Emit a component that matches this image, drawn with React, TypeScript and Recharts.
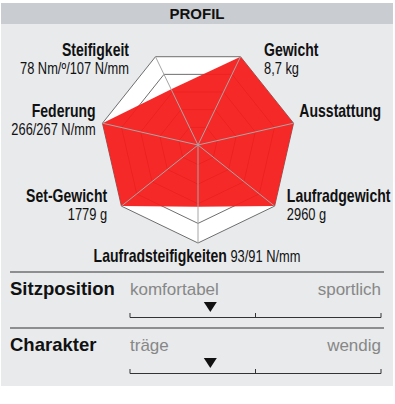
import React from 'react';
import {
  RadarChart,
  Radar,
  PolarGrid,
  PolarAngleAxis,
  PolarRadiusAxis
} from 'recharts';

// Profile axes, clockwise starting at "Gewicht"
const categories = [
  'Gewicht',
  'Ausstattung',
  'Laufradgewicht',
  'Laufradsteifigkeiten',
  'Set-Gewicht',
  'Federung',
  'Steifigkeit'
];
const measured = ['8,7 kg', '', '2960 g', '93/91 N/mm', '1779 g', '266/267 N/mm', '78 Nm/º/107 N/mm'];
const scores = [100, 100, 100, 63, 100, 100, 63];
const fullScores = [100, 100, 100, 100, 100, 100, 100];

// Bottom rating scales
const scaleTitles = ['Sitzposition', 'Charakter'];
const scaleLeft = ['komfortabel', 'träge'];
const scaleRight = ['sportlich', 'wendig'];
const scaleMarker = [0.32, 0.32];

const chartData = categories.map((name, i) => ({
  name,
  value: measured[i],
  score: scores[i],
  full: fullScores[i]
}));

const SANS = '"Liberation Sans", Arial, sans-serif';
const SQUEEZE = 0.78; // fake a condensed face

// label placement relative to the tick point
const labelLayout: Record<string, { anchor: 'start' | 'end' | 'middle'; dx: number; dy: number; inline?: boolean }> = {
  'Gewicht': { anchor: 'start', dx: 20, dy: 7 },
  'Ausstattung': { anchor: 'start', dx: -2, dy: -4 },
  'Laufradgewicht': { anchor: 'start', dx: 6, dy: -9 },
  'Laufradsteifigkeiten': { anchor: 'middle', dx: -1, dy: 11, inline: true },
  'Set-Gewicht': { anchor: 'end', dx: -8, dy: -9 },
  'Federung': { anchor: 'end', dx: 1, dy: -4 },
  'Steifigkeit': { anchor: 'end', dx: -23, dy: 7 }
};

function AxisLabel(props: any) {
  const { x, y, payload, index } = props;
  const name = payload.value as string;
  const layout = labelLayout[name];
  const sub = measured[index];
  const tf = `translate(${x + layout.dx},${y + layout.dy}) scale(${SQUEEZE},1)`;
  if (layout.inline) {
    return (
      <g transform={tf}>
        <text x={0} y={0} textAnchor="middle" fill="#111" fontFamily={SANS}>
          <tspan fontWeight="bold" fontSize={18}>{name}</tspan>
          <tspan fontSize={16.5}> {sub}</tspan>
        </text>
      </g>
    );
  }
  return (
    <g transform={tf}>
      <text x={0} y={0} textAnchor={layout.anchor} fontFamily={SANS} fontWeight="bold" fontSize={18} fill="#111">
        {name}
      </text>
      {sub && (
        <text x={0} y={18} textAnchor={layout.anchor} fontFamily={SANS} fontSize={16.5} fill="#111">
          {sub}
        </text>
      )}
    </g>
  );
}

const START = 90 - 360 / 7 / 2 - 360 / 14 + 360 / 14; // 64.29 deg, puts "Laufradsteifigkeiten" straight down

function RadarLayer({ children }: { children: React.ReactNode }) {
  return (
    <div style={{ position: 'absolute', left: 0, top: 0 }}>
      <RadarChart
        width={395}
        height={404}
        cx={198}
        cy={145}
        outerRadius={98}
        startAngle={START}
        endAngle={START - 360}
        data={chartData}
        margin={{ top: 0, right: 0, bottom: 0, left: 0 }}
      >
        <PolarRadiusAxis domain={[0, 100]} tickCount={6} tick={false} axisLine={false} />
        {children}
      </RadarChart>
    </div>
  );
}

export default function App() {
  return (
    <div style={{ position: 'absolute', left: 0, top: 0, width: 395, height: 404, background: '#fff', overflow: 'hidden' }}>
      <div style={{ position: 'absolute', left: 1, top: 3, width: 392, height: 383, background: '#e8eaec' }} />
      <div
        style={{
          position: 'absolute',
          left: 1,
          top: 3,
          width: 392,
          height: 21,
          background: '#c9ccd0',
          textAlign: 'center',
          fontFamily: SANS,
          fontWeight: 'bold',
          fontSize: 15,
          lineHeight: '22px',
          color: '#111'
        }}
      >
        PROFIL
      </div>

      {/* white plot area */}
      <RadarLayer>
        <PolarAngleAxis dataKey="name" tick={false} axisLine={false} tickLine={false} />
        <Radar dataKey="full" fill="#ffffff" fillOpacity={1} stroke="none" isAnimationActive={false} />
      </RadarLayer>

      {/* rings + score */}
      <RadarLayer>
        <PolarGrid gridType="polygon" radialLines={false} stroke="#6e6e6e" strokeWidth={1} />
        <PolarAngleAxis dataKey="name" tick={false} axisLine={false} tickLine={false} />
        <Radar dataKey="score" fill="#f51c1c" fillOpacity={0.94} stroke="none" isAnimationActive={false} />
      </RadarLayer>

      {/* spokes on top + labels */}
      <RadarLayer>
        <PolarGrid gridType="polygon" polarRadius={[0]} radialLines stroke="#a6a6a6" strokeWidth={1} />
        <PolarAngleAxis dataKey="name" tick={AxisLabel} axisLine={false} tickLine={false} />
      </RadarLayer>

      <svg width={395} height={404} style={{ position: 'absolute', left: 0, top: 0 }}>
        {scaleTitles.map((title, i) => {
          const top = 272 + i * 56;
          const x0 = 130;
          const x1 = 381;
          const mx = x0 + (x1 - x0) * scaleMarker[i];
          return (
            <g key={title}>
              <line x1={10} x2={384} y1={top} y2={top} stroke="#333" strokeWidth={1} />
              <text x={10} y={top + 23} fontFamily={SANS} fontWeight="bold" fontSize={18.5} fill="#111">
                {title}
              </text>
              <text x={x0} y={top + 23} fontFamily={SANS} fontSize={17} fill="#878787">
                {scaleLeft[i]}
              </text>
              <text x={x1} y={top + 23} textAnchor="end" fontFamily={SANS} fontSize={17} fill="#878787">
                {scaleRight[i]}
              </text>
              <polygon points={`${mx - 6.5},${top + 30} ${mx + 6.5},${top + 30} ${mx},${top + 40}`} fill="#111" />
              <path
                d={`M${x0},${top + 41} V${top + 45.5} H${x1} V${top + 41} M${(x0 + x1) / 2},${top + 41} V${top + 45.5}`}
                stroke="#333"
                strokeWidth={1}
                fill="none"
              />
            </g>
          );
        })}
      </svg>
    </div>
  );
}
